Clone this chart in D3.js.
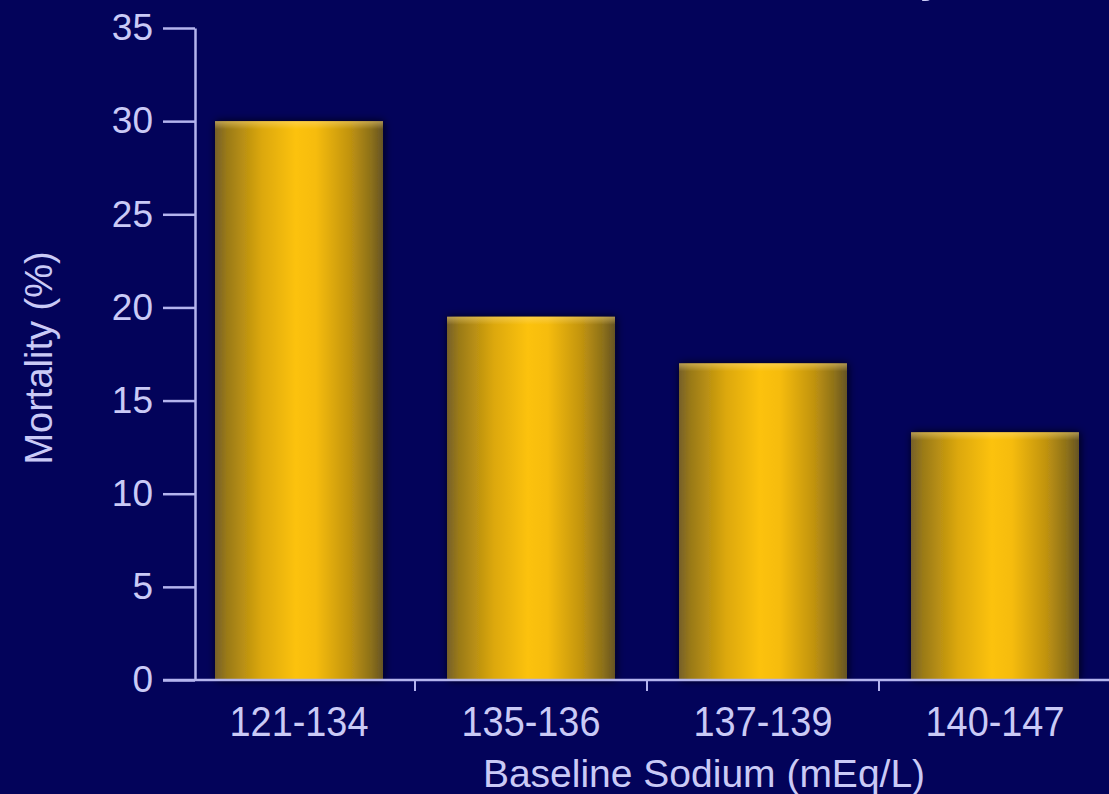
<!DOCTYPE html>
<html>
<head>
<meta charset="utf-8">
<script src="https://cdn.jsdelivr.net/npm/d3@7"></script>
<style>
  html, body { margin: 0; padding: 0; background: #03035a; }
  svg { display: block; }
  text { font-family: "Liberation Sans", Arial, Helvetica, sans-serif; fill: #cacaf6; }
</style>
</head>
<body>
<svg id="chart" width="1109" height="794"></svg>
<script>
// Mortality by baseline serum sodium range
const categories = ["121-134", "135-136", "137-139", "140-147"];
const mortality = [30.0, 19.5, 17.0, 13.3];
const yTicks = [0, 5, 10, 15, 20, 25, 30, 35];
const titleText = "Baseline Sodium and Mortality";
const xTitle = "Baseline Sodium (mEq/L)";
const yTitle = "Mortality (%)";

const W = 1109, H = 794;
const axisColor = "#b4b4ee";

const svg = d3.select("#chart");

svg.append("rect").attr("width", W).attr("height", H).attr("fill", "#03035a");

const defs = svg.append("defs");

// cylinder-like shading across each bar
const grad = defs.append("linearGradient").attr("id", "barShade")
  .attr("x1", "0%").attr("x2", "100%").attr("y1", "0%").attr("y2", "0%");
[
  [0.00, "#76602a"], [0.07, "#9a7a18"], [0.28, "#dca80c"], [0.48, "#fcc20e"],
  [0.60, "#f6bc0c"], [0.80, "#c29410"], [0.93, "#8c701a"], [1.00, "#665424"]
].forEach(([o, c]) => grad.append("stop").attr("offset", o).attr("stop-color", c));

const topGlow = defs.append("linearGradient").attr("id", "topGlow")
  .attr("x1", "0").attr("x2", "0").attr("y1", "0").attr("y2", "1");
topGlow.append("stop").attr("offset", 0).attr("stop-color", "#ffe08a").attr("stop-opacity", 0.45);
topGlow.append("stop").attr("offset", 1).attr("stop-color", "#ffe08a").attr("stop-opacity", 0);

const shadow = defs.append("filter").attr("id", "barShadow")
  .attr("x", "-20%").attr("y", "-20%").attr("width", "140%").attr("height", "140%");
shadow.append("feDropShadow").attr("dx", 1).attr("dy", 0).attr("stdDeviation", 4)
  .attr("flood-color", "#000010").attr("flood-opacity", 0.85);

// scales
const y = d3.scaleLinear().domain([0, 35]).range([680, 28]);
const x = d3.scaleBand().domain(categories).range([183, 1111])
  .paddingInner(0.276).paddingOuter(0.138);

// title (runs off the top edge; only the tail of its last letter shows)
svg.append("text")
  .attr("x", 950).attr("y", -11)
  .attr("text-anchor", "end")
  .attr("font-size", 60)
  .text(titleText);

// bars
const bars = svg.append("g").selectAll("g.bar")
  .data(categories.map((c, i) => ({ c, v: mortality[i] })))
  .join("g").attr("class", "bar");

bars.append("rect")
  .attr("x", d => x(d.c)).attr("y", d => y(d.v))
  .attr("width", x.bandwidth()).attr("height", d => y(0) - y(d.v))
  .attr("fill", "url(#barShade)")
  .attr("filter", "url(#barShadow)");

bars.append("rect")
  .attr("x", d => x(d.c)).attr("y", d => y(d.v))
  .attr("width", x.bandwidth()).attr("height", 8)
  .attr("fill", "url(#topGlow)");

// y axis
const yAxis = d3.axisLeft(y).tickValues(yTicks).tickSize(32).tickSizeOuter(0).tickPadding(10);
const gy = svg.append("g").attr("transform", "translate(195,0)").call(yAxis);
gy.select(".domain").attr("stroke", axisColor).attr("stroke-width", 2.5);
gy.selectAll(".tick line").attr("stroke", axisColor).attr("stroke-width", 2.5);
gy.selectAll(".tick text").attr("font-size", 37).attr("fill", "#cacaf6")
  .attr("font-family", "'Liberation Sans', Arial, sans-serif");

// x axis baseline and separator ticks between categories
svg.append("line")
  .attr("x1", 163).attr("x2", W).attr("y1", y(0)).attr("y2", y(0))
  .attr("stroke", axisColor).attr("stroke-width", 2.5);

const gap = x.step() * x.paddingInner();
svg.append("g").selectAll("line")
  .data(categories.slice(0, -1))
  .join("line")
  .attr("x1", d => x(d) + x.bandwidth() + gap / 2)
  .attr("x2", d => x(d) + x.bandwidth() + gap / 2)
  .attr("y1", y(0)).attr("y2", y(0) + 11)
  .attr("stroke", axisColor).attr("stroke-width", 2);

// category labels
const xAxis = d3.axisBottom(x).tickSize(0).tickPadding(0);
const gx = svg.append("g").attr("transform", `translate(0,${y(0)})`).call(xAxis);
gx.select(".domain").remove();
gx.selectAll(".tick text")
  .attr("font-size", 43).attr("fill", "#cacaf6")
  .attr("font-family", "'Liberation Sans', Arial, sans-serif")
  .attr("dy", 0).attr("y", 56)
  .attr("transform", "scale(0.88,1)")
  .attr("x", 0);

// axis titles
svg.append("text")
  .attr("x", 704).attr("y", 787)
  .attr("text-anchor", "middle")
  .attr("font-size", 39)
  .text(xTitle);

svg.append("text")
  .attr("transform", "translate(52,358) rotate(-90)")
  .attr("text-anchor", "middle")
  .attr("font-size", 38)
  .text(yTitle);
</script>
</body>
</html>
